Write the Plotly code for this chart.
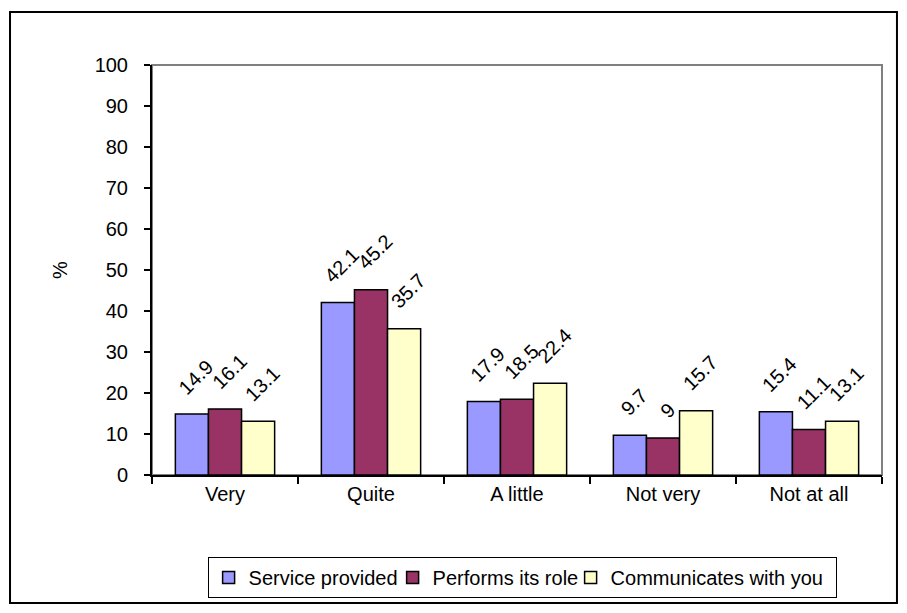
import plotly.graph_objects as go

categories = ["Very", "Quite", "A little", "Not very", "Not at all"]
series_names = ["Service provided", "Performs its role", "Communicates with you"]
service_provided = [14.9, 42.1, 17.9, 9.7, 15.4]
performs_its_role = [16.1, 45.2, 18.5, 9, 11.1]
communicates_with_you = [13.1, 35.7, 22.4, 15.7, 13.1]
y_ticks = list(range(0, 101, 10))

series_values = [service_provided, performs_its_role, communicates_with_you]
colors = ["#9999FF", "#993366", "#FFFFCC"]
# tighter legend entries (px)
legend_widths = [139, 133, 220]

FONT = "Liberation Sans, Arial, sans-serif"
FS = 20
BARGAP = 0.32
n_series = len(series_values)
bar_w = (1 - BARGAP) / n_series
xpos = list(range(len(categories)))

fig = go.Figure()
for name, vals, col, lw in zip(series_names, series_values, colors, legend_widths):
    fig.add_trace(go.Bar(
        x=xpos, y=vals, name=name, legendwidth=lw,
        marker=dict(color=col, line=dict(color="black", width=1.5)),
    ))

# rotated value labels above each bar
annotations = []
for j, vals in enumerate(series_values):
    off = (j - (n_series - 1) / 2) * bar_w
    for i, v in enumerate(vals):
        annotations.append(dict(
            x=i + off, y=v, xref="x", yref="y",
            text=f"{v:g}", showarrow=False, textangle=-45,
            xanchor="center", yanchor="bottom", xshift=4, yshift=13,
            font=dict(family=FONT, size=FS, color="black"),
        ))

annotations.append(dict(
    x=-0.126, y=0.5, xref="paper", yref="paper", text="%",
    showarrow=False, textangle=-90, xanchor="center", yanchor="middle",
    font=dict(family=FONT, size=FS, color="black"),
))

fig.update_layout(
    width=907, height=613,
    margin=dict(l=152, r=25, t=65, b=138),
    paper_bgcolor="white", plot_bgcolor="white",
    barmode="group", bargap=BARGAP, bargroupgap=0,
    font=dict(family=FONT, size=FS, color="black"),
    showlegend=True,
    legend=dict(
        orientation="h", x=0.507, xanchor="center", y=-0.2, yanchor="top",
        bordercolor="black", borderwidth=1, bgcolor="white",
        font=dict(family=FONT, size=FS, color="black"),
        itemwidth=30, tracegroupgap=0,
    ),
    annotations=annotations,
    shapes=[
        # plot area border
        dict(type="rect", xref="paper", yref="paper", x0=0, y0=0, x1=1, y1=1,
             line=dict(color="#808080", width=2), layer="below"),
        # outer chart frame
        dict(type="rect", xref="paper", yref="paper",
             x0=-0.1945, y0=-0.3122, x1=1.0205, y1=1.129,
             line=dict(color="black", width=2), layer="above"),
    ],
)

fig.update_xaxes(
    range=[-0.5, len(categories) - 0.5],
    tickmode="array", tickvals=xpos, ticktext=categories,
    ticks="", showline=True, linecolor="black", linewidth=2,
    showgrid=False, zeroline=False, ticklabelstandoff=0,
    minor=dict(tickmode="linear", tick0=-0.5, dtick=1, ticks="outside",
               ticklen=7, tickcolor="black", tickwidth=2, showgrid=False),
)
fig.update_yaxes(
    range=[0, 100], tickmode="array", tickvals=y_ticks,
    ticks="outside", ticklen=6, tickwidth=2, tickcolor="black",
    showline=True, linecolor="black", linewidth=2,
    showgrid=False, zeroline=False, ticklabelstandoff=12,
)

fig.write_html("out.html")
